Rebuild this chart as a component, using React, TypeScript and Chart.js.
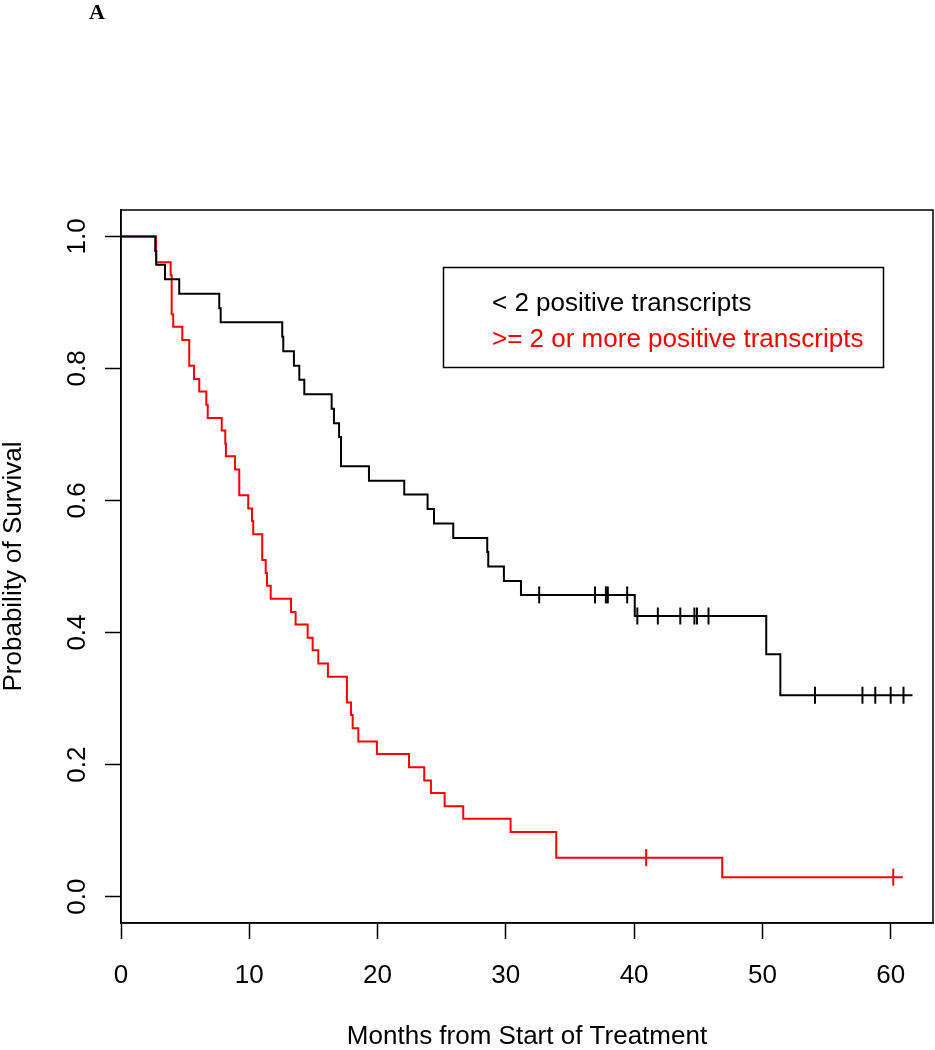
import React, { useEffect, useRef } from "react";
import { Chart, registerables } from "chart.js";

Chart.register(...registerables);

// ---- data ----
const xTicks = [0, 10, 20, 30, 40, 50, 60];
const yTicks = [0, 0.2, 0.4, 0.6, 0.8, 1.0];

const lowLabel = "< 2 positive transcripts";
const highLabel = ">= 2 or more positive transcripts";
const xTitle = "Months from Start of Treatment";
const yTitle = "Probability of Survival";
const panelLabel = "A";

// "< 2 positive transcripts" (black) Kaplan-Meier steps
const lowTimes = [0, 2.67, 2.75, 3.43, 4.54, 7.66, 7.77, 12.57, 12.65, 13.48, 13.9, 14.29, 16.42, 16.6, 17.0, 17.15, 19.33, 22.08, 23.9, 24.4, 25.9, 28.55, 28.63, 29.85, 31.18, 40.05, 50.3, 51.4, 61.7];
const lowSurv = [1.0, 0.978, 0.957, 0.935, 0.913, 0.891, 0.870, 0.848, 0.826, 0.804, 0.783, 0.761, 0.739, 0.717, 0.696, 0.652, 0.630, 0.609, 0.587, 0.565, 0.543, 0.522, 0.500, 0.478, 0.457, 0.425, 0.367, 0.305, 0.305];
const lowCensorTimes = [32.6, 36.95, 37.8, 37.95, 39.46, 40.25, 41.85, 43.6, 44.7, 44.9, 45.8, 54.1, 57.8, 58.8, 60.0, 61.0];
const lowCensorSurv = [0.457, 0.457, 0.457, 0.457, 0.457, 0.425, 0.425, 0.425, 0.425, 0.425, 0.425, 0.305, 0.305, 0.305, 0.305, 0.305];

// ">= 2 or more positive transcripts" (red) Kaplan-Meier steps
const highTimes = [0, 2.73, 3.87, 3.95, 4.07, 4.78, 5.32, 5.69, 6.1, 6.65, 6.76, 7.85, 8.13, 8.18, 8.89, 9.22, 9.92, 10.21, 10.31, 11.01, 11.28, 11.38, 11.67, 13.25, 13.61, 14.55, 14.94, 15.38, 16.13, 17.61, 17.93, 18.06, 18.5, 19.95, 22.45, 23.64, 24.16, 25.23, 26.68, 30.37, 33.93, 46.87, 60.95];
const highSurv = [1.0, 0.961, 0.941, 0.882, 0.863, 0.843, 0.804, 0.784, 0.765, 0.745, 0.725, 0.706, 0.686, 0.667, 0.647, 0.608, 0.588, 0.569, 0.549, 0.510, 0.490, 0.471, 0.451, 0.431, 0.412, 0.392, 0.373, 0.353, 0.333, 0.294, 0.275, 0.255, 0.235, 0.216, 0.196, 0.176, 0.157, 0.137, 0.118, 0.098, 0.059, 0.0294, 0.0294];
const highCensorTimes = [40.94, 60.2];
const highCensorSurv = [0.059, 0.0294];

const FONT = '"Liberation Sans", Arial, sans-serif';
const FS = 26;

const decor = {
  id: "decor",
  afterDraw(chart: any) {
    const ctx = chart.ctx as CanvasRenderingContext2D;
    const a = chart.chartArea;
    const ys = chart.scales.y;
    ctx.save();
    // plot box
    ctx.strokeStyle = "#000";
    ctx.lineWidth = 1.5;
    ctx.strokeRect(a.left, a.top, a.right - a.left, a.bottom - a.top);

    // rotated y tick labels
    ctx.fillStyle = "#000";
    ctx.font = `${FS}px ${FONT}`;
    ctx.textAlign = "center";
    ctx.textBaseline = "alphabetic";
    yTicks.forEach((v) => {
      const py = ys.getPixelForValue(v);
      ctx.save();
      ctx.translate(85, py);
      ctx.rotate(-Math.PI / 2);
      ctx.fillText(v.toFixed(1), 0, 0);
      ctx.restore();
    });

    // y title
    ctx.save();
    ctx.translate(21, (a.top + a.bottom) / 2);
    ctx.rotate(-Math.PI / 2);
    ctx.fillText(yTitle, 0, 0);
    ctx.restore();

    // x title
    ctx.fillText(xTitle, (a.left + a.right) / 2, 1044);

    // legend
    ctx.lineWidth = 1.5;
    ctx.strokeRect(443.5, 267.5, 440, 100);
    ctx.textAlign = "left";
    ctx.textBaseline = "middle";
    ctx.fillStyle = "#000";
    ctx.fillText(lowLabel, 492, 304);
    ctx.fillStyle = "#ff0000";
    ctx.fillText(highLabel, 492, 340);

    // panel label
    ctx.fillStyle = "#000";
    ctx.textAlign = "center";
    ctx.font = `bold 22px "Liberation Serif", "Times New Roman", serif`;
    ctx.fillText(panelLabel, 97, 13);
    ctx.restore();
  },
};

export default function App() {
  const ref = useRef<HTMLCanvasElement>(null);
  useEffect(() => {
    const canvas = ref.current!;
    const mk = (ts: number[], ss: number[]) => ts.map((t, i) => ({ x: t, y: ss[i] }));
    const chart = new Chart(canvas, {
      type: "line",
      data: {
        datasets: [
          {
            data: mk(lowCensorTimes, lowCensorSurv),
            showLine: false,
            pointStyle: "line",
            pointRotation: 90,
            pointRadius: 8.5,
            pointBorderWidth: 2,
            pointBorderColor: "#000",
            borderColor: "#000",
          },
          {
            data: mk(highCensorTimes, highCensorSurv),
            showLine: false,
            pointStyle: "line",
            pointRotation: 90,
            pointRadius: 8.5,
            pointBorderWidth: 2,
            pointBorderColor: "#ff0000",
            borderColor: "#ff0000",
          },
          {
            data: mk(lowTimes, lowSurv),
            stepped: "before",
            borderColor: "#000",
            borderWidth: 2,
            pointRadius: 0,
            fill: false,
          },
          {
            data: mk(highTimes, highSurv),
            stepped: "before",
            borderColor: "#ff0000",
            borderWidth: 2,
            pointRadius: 0,
            fill: false,
          },
        ],
      } as any,
      options: {
        animation: false,
        responsive: false,
        devicePixelRatio: 1,
        events: [],
        layout: { autoPadding: false, padding: { top: 210, right: 2, left: 0, bottom: 0 } },
        plugins: { legend: { display: false }, tooltip: { enabled: false } },
        scales: {
          x: {
            type: "linear",
            min: 0,
            max: 63.3,
            afterBuildTicks: (s: any) => {
              s.ticks = xTicks.map((v) => ({ value: v }));
            },
            afterFit: (s: any) => {
              s.height = 127;
              s.paddingLeft = 0;
              s.paddingRight = 0;
            },
            ticks: {
              color: "#000",
              font: { family: FONT, size: FS },
              padding: 21,
              maxRotation: 0,
              minRotation: 0,
              callback: (v: any) => String(v),
            },
            grid: {
              drawOnChartArea: false,
              drawTicks: true,
              tickLength: 16,
              tickWidth: 1.5,
              tickColor: "#000",
            },
            border: { display: true, color: "#000", width: 1.5 },
          },
          y: {
            type: "linear",
            min: -0.04,
            max: 1.04,
            afterBuildTicks: (s: any) => {
              s.ticks = yTicks.map((v) => ({ value: v }));
            },
            afterFit: (s: any) => {
              s.width = 121;
              s.paddingTop = 0;
              s.paddingBottom = 0;
            },
            ticks: { display: false },
            grid: {
              drawOnChartArea: false,
              drawTicks: true,
              tickLength: 16,
              tickWidth: 1.5,
              tickColor: "#000",
            },
            border: { display: true, color: "#000", width: 1.5 },
          },
        },
      } as any,
      plugins: [decor],
    });
    return () => chart.destroy();
  }, []);
  return (
    <div style={{ position: "absolute", left: 0, top: 0, width: 935, height: 1050, background: "#fff" }}>
      <canvas ref={ref} width={935} height={1050} style={{ width: 935, height: 1050, display: "block" }} />
    </div>
  );
}
